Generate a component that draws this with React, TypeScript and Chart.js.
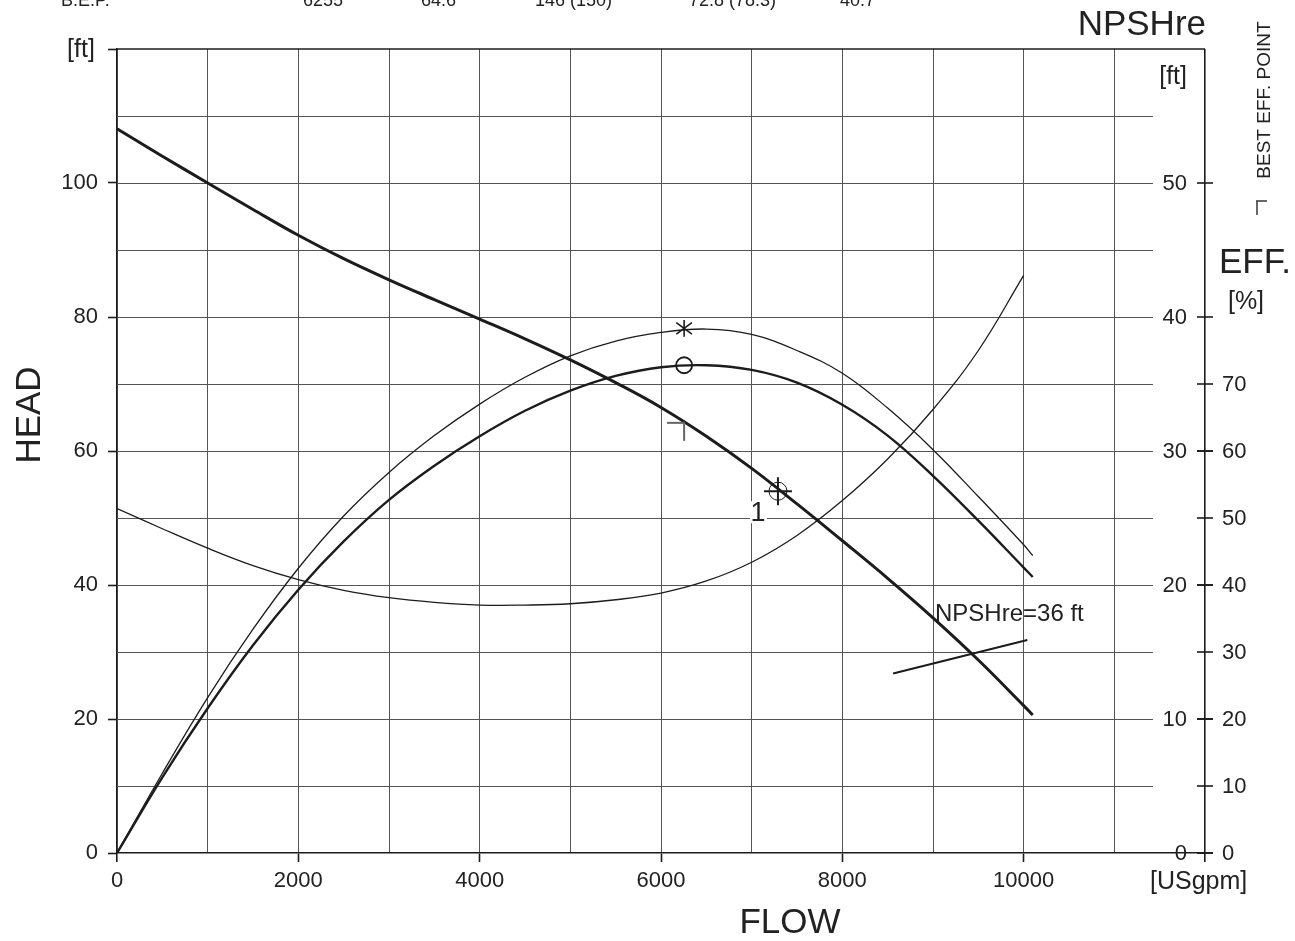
import React, { useEffect, useRef } from 'react';
import { Chart, registerables } from 'chart.js';

Chart.register(...registerables);

// ---------- data ----------
const flow = [0, 500, 1000, 1500, 2000, 2500, 3000, 3500, 4000, 4500, 5000, 5500, 6000, 6500, 7000, 7500, 8000, 8500, 9000, 9500, 10000, 10100];
const head = [108.1, 104.0, 100.0, 96.05, 92.2, 88.7, 85.55, 82.6, 79.7, 76.75, 73.6, 70.2, 66.5, 62.2, 57.4, 52.1, 46.6, 41.0, 35.1, 28.8, 22.0, 20.6];
const effPump = [0, 11.3, 21.6, 31.0, 39.3, 46.5, 52.7, 57.8, 62.2, 66.0, 69.0, 71.2, 72.5, 72.8, 72.1, 70.2, 66.9, 62.3, 56.3, 49.6, 42.6, 41.2];
const effHyd = [0, 11.9, 23.2, 33.4, 42.5, 50.3, 56.8, 62.3, 67.0, 71.0, 74.2, 76.4, 77.7, 78.2, 77.4, 75.0, 71.6, 66.4, 60.2, 53.2, 46.0, 44.4];
const npshFlow = [0, 500, 1000, 1500, 2000, 2500, 3000, 3500, 4000, 4500, 5000, 5500, 6000, 6500, 7000, 7500, 8000, 8500, 9000, 9500, 10000];
const npshReq = [25.7, 24.2, 22.75, 21.45, 20.4, 19.6, 19.05, 18.7, 18.5, 18.5, 18.6, 18.9, 19.4, 20.3, 21.7, 23.7, 26.3, 29.4, 33.1, 37.5, 43.1];
const npsh36Flow = [8560, 10040];
const npsh36Head = [26.8, 31.8];
const bepFlow = [6255];
const bepEffPump = [72.8];
const bepEffHyd = [78.3];
const bepHead = [64.2];
const dutyFlow = [7290];
const dutyHead = [54];
const flowTickLabels = [0, 2000, 4000, 6000, 8000, 10000];
const headTickLabels = [0, 20, 40, 60, 80, 100];
const npshTicks = [0, 10, 20, 30, 40, 50];
const effTicks = [0, 10, 20, 30, 40, 50, 60, 70];
const bepRow = ['B.E.P.', '6255', '64.6', '146 (150)', '72.8 (78.3)', '40.7'];
const bepRowX = [61, 303, 421, 535, 689, 840];

const FONT = '"Liberation Sans", Arial, Helvetica, sans-serif';
const INK = '#1c1c1c';
const GRID = '#555555';

const pts = (xs: number[], ys: number[]) => xs.map((x, i) => ({ x, y: ys[i] }));

function line(ctx: CanvasRenderingContext2D, x1: number, y1: number, x2: number, y2: number) {
  ctx.beginPath();
  ctx.moveTo(x1, y1);
  ctx.lineTo(x2, y2);
  ctx.stroke();
}

function text(ctx: CanvasRenderingContext2D, s: string, x: number, y: number, size: number, align: CanvasTextAlign = 'left', baseline: CanvasTextBaseline = 'middle', rot = 0) {
  ctx.save();
  ctx.font = `${size}px ${FONT}`;
  ctx.fillStyle = '#222';
  ctx.textAlign = align;
  ctx.textBaseline = baseline;
  ctx.translate(x, y);
  if (rot) ctx.rotate(rot);
  ctx.fillText(s, 0, 0);
  ctx.restore();
}

const decor = {
  id: 'decor',
  beforeDatasetsDraw(chart: any) {
    const { ctx, chartArea, scales } = chart;
    const { left, right, top } = chartArea;
    const y = scales.y;
    ctx.save();
    ctx.strokeStyle = GRID;
    ctx.lineWidth = 1;
    for (const t of y.ticks) {
      if (t.value <= 0 || t.value >= 120) continue;
      const py = Math.round(y.getPixelForValue(t.value)) + 0.5;
      line(ctx, left, py, right - 52, py);
    }
    ctx.strokeStyle = INK;
    ctx.lineWidth = 1.6;
    line(ctx, left, top, right, top);
    const yn = scales.yNpsh;
    const ye = scales.yEff;
    for (const v of npshTicks) {
      const py = yn.getPixelForValue(v);
      line(ctx, right - 8, py, right + 8, py);
      text(ctx, String(v), right - 18, py + 1, 22, 'right');
    }
    for (const v of effTicks) {
      const py = ye.getPixelForValue(v);
      line(ctx, right - 8, py, right + 8, py);
      text(ctx, String(v), right + 17, py + 1, 22, 'left');
    }
    ctx.restore();
  },
  afterDatasetsDraw(chart: any) {
    const { ctx, scales } = chart;
    const x = scales.x, ye = scales.yEff, y = scales.y;
    ctx.save();
    const ax = x.getPixelForValue(bepFlow[0]);
    const ay = ye.getPixelForValue(bepEffHyd[0]);
    ctx.strokeStyle = INK;
    ctx.lineWidth = 1.6;
    line(ctx, ax, ay - 8.3, ax, ay + 8.3);
    line(ctx, ax - 7.8, ay - 5.8, ax + 7.8, ay + 5.8);
    line(ctx, ax - 7.8, ay + 5.8, ax + 7.8, ay - 5.8);
    const hx = x.getPixelForValue(bepFlow[0]);
    const hy = y.getPixelForValue(bepHead[0]);
    ctx.strokeStyle = '#666';
    ctx.lineWidth = 2;
    line(ctx, hx - 17, hy, hx + 1, hy);
    line(ctx, hx, hy, hx, hy + 18);
    const dx = x.getPixelForValue(dutyFlow[0]);
    const dy = y.getPixelForValue(dutyHead[0]);
    ctx.fillStyle = '#fff';
    ctx.fillRect(dx - 28, dy + 10, 17, 22);
    text(ctx, '1', dx - 20, dy + 30, 27, 'center', 'alphabetic');
    ctx.restore();
  },
  afterDraw(chart: any) {
    const { ctx } = chart;
    ctx.save();
    bepRow.forEach((s, i) => text(ctx, s, bepRowX[i], 6, 18, 'left', 'alphabetic'));
    text(ctx, '[ft]', 81, 50, 25, 'center');
    text(ctx, 'HEAD', 30, 415, 35, 'center', 'middle', -Math.PI / 2);
    text(ctx, 'FLOW', 790, 923, 35, 'center');
    text(ctx, '[USgpm]', 1150, 882, 25, 'left');
    text(ctx, 'NPSHre', 1206, 25, 35, 'right');
    text(ctx, '[ft]', 1187, 77, 25, 'right');
    text(ctx, 'EFF.', 1219, 263, 35, 'left');
    text(ctx, '[%]', 1246, 302, 25, 'center');
    text(ctx, 'BEST EFF. POINT', 1265, 100, 19, 'center', 'middle', -Math.PI / 2);
    ctx.strokeStyle = '#444';
    ctx.lineWidth = 1.6;
    line(ctx, 1257, 201, 1257, 215);
    line(ctx, 1256, 201, 1267, 201);
    text(ctx, 'NPSHre=36 ft', 935, 621, 24, 'left', 'alphabetic');
    ctx.restore();
  },
};

export default function App() {
  const ref = useRef<HTMLCanvasElement | null>(null);

  useEffect(() => {
    if (!ref.current) return;
    Chart.defaults.font.family = FONT;
    const curve = { pointRadius: 0, tension: 0.4, fill: false, borderColor: INK };
    const chart = new Chart(ref.current, {
      type: 'line',
      data: {
        datasets: [
          { ...curve, label: 'Head', data: pts(flow, head), yAxisID: 'y', borderWidth: 3 },
          { ...curve, label: 'Pump efficiency', data: pts(flow, effPump), yAxisID: 'yEff', borderWidth: 2.4 },
          { ...curve, label: 'Hydraulic efficiency', data: pts(flow, effHyd), yAxisID: 'yEff', borderWidth: 1.3 },
          { ...curve, label: 'NPSHre', data: pts(npshFlow, npshReq), yAxisID: 'yNpsh', borderWidth: 1.3 },
          { ...curve, label: 'NPSHre=36 ft', data: pts(npsh36Flow, npsh36Head), yAxisID: 'y', borderWidth: 2, tension: 0 },
          { type: 'scatter', label: 'BEP', data: pts(bepFlow, bepEffPump), yAxisID: 'yEff', pointStyle: 'circle', pointRadius: 8, pointBorderWidth: 1.8, pointBorderColor: INK, pointBackgroundColor: 'rgba(0,0,0,0)', showLine: false },
          { type: 'scatter', label: 'Duty circle', data: pts(dutyFlow, dutyHead), yAxisID: 'y', pointStyle: 'circle', pointRadius: 9, pointBorderWidth: 1, pointBorderColor: INK, pointBackgroundColor: 'rgba(0,0,0,0)', showLine: false },
          { type: 'scatter', label: 'Duty cross', data: pts(dutyFlow, dutyHead), yAxisID: 'y', pointStyle: 'cross', pointRadius: 14, pointBorderWidth: 2, pointBorderColor: INK, showLine: false },
        ],
      } as any,
      options: {
        responsive: false,
        maintainAspectRatio: false,
        devicePixelRatio: 1,
        animation: false,
        events: [],
        layout: { padding: { top: 49, right: 90, left: 0, bottom: 0 } },
        plugins: { legend: { display: false }, tooltip: { enabled: false } },
        scales: {
          x: {
            type: 'linear',
            position: 'bottom',
            min: 0,
            max: 12000,
            afterFit: (s: any) => { s.height = 88; },
            ticks: {
              stepSize: 1000,
              autoSkip: false,
              maxRotation: 0,
              padding: 6,
              color: '#222',
              font: { size: 22 },
              callback: (v: any) => (flowTickLabels.includes(Number(v)) ? String(v) : ''),
            },
            grid: {
              display: true,
              drawOnChartArea: true,
              drawTicks: true,
              tickLength: 9,
              color: (c: any) => (c.tick && (c.tick.value === 0 || c.tick.value === 12000) ? INK : GRID),
              lineWidth: (c: any) => (c.tick && (c.tick.value === 0 || c.tick.value === 12000) ? 1.6 : 1),
              tickColor: (c: any) => (c.tick && (flowTickLabels.includes(c.tick.value) || c.tick.value === 12000) ? INK : 'rgba(0,0,0,0)'),
              tickWidth: 1.6,
            },
            border: { display: true, color: INK, width: 1.6 },
          },
          y: {
            type: 'linear',
            position: 'left',
            min: 0,
            max: 120,
            afterFit: (s: any) => { s.width = 117; },
            ticks: {
              stepSize: 10,
              autoSkip: false,
              padding: 10,
              color: '#222',
              font: { size: 22 },
              callback: (v: any) => (headTickLabels.includes(Number(v)) ? String(v) : ''),
            },
            grid: {
              display: true,
              drawOnChartArea: false,
              drawTicks: true,
              tickLength: 9,
              tickColor: (c: any) => (c.tick && (headTickLabels.includes(c.tick.value) || c.tick.value === 120) ? INK : 'rgba(0,0,0,0)'),
              tickWidth: 1.6,
            },
            border: { display: true, color: INK, width: 1.6 },
          },
          yNpsh: { type: 'linear', display: false, min: 0, max: 60 },
          yEff: { type: 'linear', display: false, min: 0, max: 120 },
        },
      } as any,
      plugins: [decor],
    });
    return () => chart.destroy();
  }, []);

  return (
    <div style={{ position: 'absolute', left: 0, top: 0, width: 1295, height: 941, background: '#fff' }}>
      <canvas ref={ref} width={1295} height={941} style={{ display: 'block', width: 1295, height: 941 }} />
    </div>
  );
}
